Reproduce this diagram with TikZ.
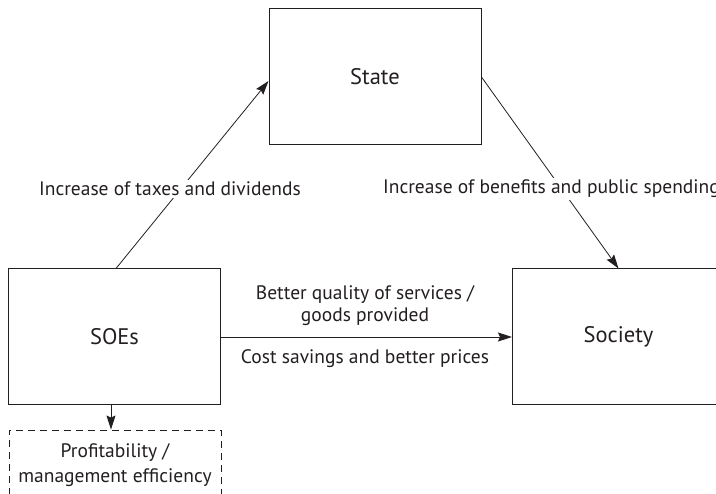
\documentclass[tikz,border=0pt]{standalone}
\usepackage{fontspec}
\setmainfont{PT Sans}
\usetikzlibrary{arrows.meta}
\definecolor{ink}{HTML}{231F20}
\tikzset{
  box/.style={draw=ink, line width=1pt, minimum width=212pt, minimum height=136pt, inner sep=0pt, text=ink, font=\fontsize{22.5pt}{26pt}\selectfont},
  dbox/.style={draw=ink, line width=0.9pt, dash pattern=on 7pt off 5pt, minimum width=212pt, minimum height=70pt, inner sep=0pt, text=ink, align=center, font=\fontsize{19.5pt}{25pt}\selectfont},
  lbl/.style={fill=white, text=ink, inner sep=2pt, align=center, font=\fontsize{19.5pt}{22pt}\selectfont},
  conn/.style={draw=ink, line width=0.8pt, -{Stealth[length=14pt,width=9pt,inset=2pt]}}
}
\begin{document}
\begin{tikzpicture}[x=1pt,y=-1pt]
\useasboundingbox (0,0) rectangle (716,494);
\clip (0,0) rectangle (716,494);
\node[box] (state) at (375,77) {State};
\node[box] (soe) at (114.5,337) {SOEs};
\node[box] (soc) at (618.5,337) {Society};
\node[dbox] (prof) at (115,465) {Profitability /\\management efficiency};
% connectors
\draw[conn] ([xshift=1.5pt]soe.north) -- ([yshift=-4pt]state.west);
\node[lbl] (l1) at (170,189) {Increase of taxes and dividends};
\draw[conn] (state.east) -- (soc.north);
\node[lbl, anchor=west] (l2) at (381,189) {Increase of benefits and public spending};
\draw[conn] (soe.east) -- (soc.west);
\node[lbl] (l3) at (365,306) {Better quality of services /\\goods provided};
\node[lbl] (l4) at (365,359) {Cost savings and better prices};
\draw[conn] ([xshift=-3.5pt]soe.south) -- ([xshift=-4pt]prof.north);
\end{tikzpicture}
\end{document}
